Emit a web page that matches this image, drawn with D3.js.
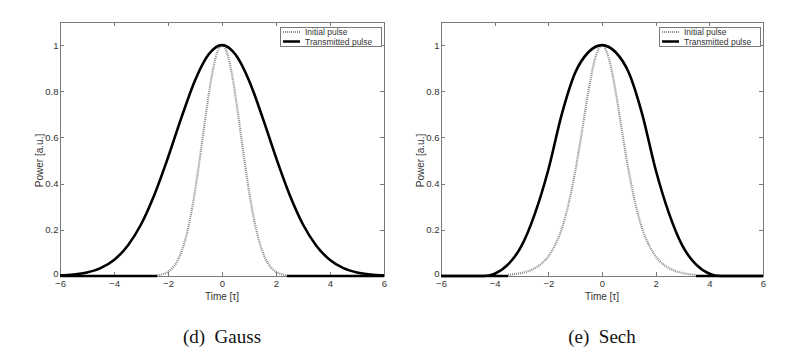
<!DOCTYPE html>
<html><head><meta charset="utf-8">
<script src="https://cdn.jsdelivr.net/npm/d3@7"></script>
<style>
html,body{margin:0;padding:0;background:#fff;}
svg{display:block;}
</style></head>
<body>
<svg id="chart" width="791" height="356"></svg>
<script>
// ---- data ----
const xTicks = [-6, -4, -2, 0, 2, 4, 6];
const yTicks = [0, 0.2, 0.4, 0.6, 0.8, 1];
const xDomain = [-6, 6];
const yDomain = [0, 1.1];

const gaussInitT = [-2.4,-2.2,-2.0,-1.8,-1.6,-1.4,-1.2,-1.0,-0.8,-0.6,-0.4,-0.2,0,0.2,0.4,0.6,0.8,1.0,1.2,1.4,1.6,1.8,2.0,2.2,2.4];
const gaussInitP = [0.003,0.008,0.018,0.039,0.077,0.141,0.237,0.368,0.527,0.698,0.852,0.961,1,0.961,0.852,0.698,0.527,0.368,0.237,0.141,0.077,0.039,0.018,0.008,0.003];
const gaussTransT = [-6,-5.5,-5,-4.5,-4,-3.5,-3,-2.5,-2,-1.5,-1,-0.5,0,0.5,1,1.5,2,2.5,3,3.5,4,4.5,5,5.5,6];
const gaussTransP = [0.0025,0.0065,0.0155,0.034,0.0695,0.130,0.223,0.353,0.513,0.687,0.847,0.959,1,0.959,0.847,0.687,0.513,0.353,0.223,0.130,0.0695,0.034,0.0155,0.0065,0.0025];
const gaussBaseline = [[-6,-2.4],[2.4,6]];

const sechInitT = [-3.5,-3.25,-3,-2.75,-2.5,-2.25,-2,-1.75,-1.5,-1.25,-1,-0.75,-0.5,-0.25,0,0.25,0.5,0.75,1,1.25,1.5,1.75,2,2.25,2.5,2.75,3,3.25,3.5];
const sechInitP = [0.005,0.008,0.013,0.021,0.034,0.054,0.085,0.134,0.204,0.310,0.452,0.624,0.804,0.945,1,0.945,0.804,0.624,0.452,0.310,0.204,0.134,0.085,0.054,0.034,0.021,0.013,0.008,0.005];
const sechTransT = [-6,-5.5,-5,-4.5,-4.4,-4,-3.5,-3,-2.5,-2,-1.5,-1,-0.5,0,0.5,1,1.5,2,2.5,3,3.5,4,4.4,4.5,5,5.5,6];
const sechTransP = [0,0,0,0,0,0.01,0.05,0.13,0.27,0.46,0.70,0.88,0.97,1,0.97,0.88,0.70,0.46,0.27,0.13,0.05,0.01,0,0,0,0,0];
const sechBaseline = [[-6,-3.5],[3.5,6]];

const legendLabels = ["Initial pulse", "Transmitted pulse"];
const captions = ["(d)\u00a0\u00a0Gauss", "(e)\u00a0\u00a0Sech"];

// ---- drawing ----
const svg = d3.select("#chart");
const axisColor = "#7a7a7a";
const textColor = "#333";
const sans = "Liberation Sans, Arial, sans-serif";

const panels = [
  {x0: 60, x1: 384, init: [gaussInitT, gaussInitP], trans: [gaussTransT, gaussTransP], base: gaussBaseline, cap: captions[0]},
  {x0: 441, x1: 763, init: [sechInitT, sechInitP], trans: [sechTransT, sechTransP], base: sechBaseline, cap: captions[1]}
];

const yTop = 22, yBot = 276;

panels.forEach(p => {
  const g = svg.append("g");
  const x = d3.scaleLinear().domain(xDomain).range([p.x0, p.x1]);
  const y = d3.scaleLinear().domain(yDomain).range([yBot, yTop]);

  // box
  g.append("rect").attr("x", p.x0).attr("y", yTop).attr("width", p.x1 - p.x0).attr("height", yBot - yTop)
    .attr("fill", "#fff").attr("stroke", axisColor).attr("stroke-width", 1).attr("shape-rendering", "crispEdges");

  // axes with inward ticks
  const xa = g.append("g").attr("transform", `translate(0,${yBot})`)
    .call(d3.axisBottom(x).tickValues(xTicks).tickSize(-4).tickPadding(4).tickFormat(d3.format("d")));
  const xa2 = g.append("g").attr("transform", `translate(0,${yTop})`)
    .call(d3.axisTop(x).tickValues(xTicks).tickSize(-4).tickFormat(""));
  const ya = g.append("g").attr("transform", `translate(${p.x0},0)`)
    .call(d3.axisLeft(y).tickValues(yTicks).tickSize(-4).tickPadding(1.5).tickFormat(d => d === 0 || d === 1 ? d3.format("d")(d) : d3.format(".1f")(d)));
  const ya2 = g.append("g").attr("transform", `translate(${p.x1},0)`)
    .call(d3.axisRight(y).tickValues(yTicks).tickSize(-4).tickFormat(""));
  [xa, xa2, ya, ya2].forEach(a => {
    a.select(".domain").remove();
    a.selectAll("line").attr("stroke", axisColor).attr("shape-rendering", "crispEdges");
    a.selectAll("text").attr("fill", textColor).style("font-family", sans).style("font-size", "9.5px");
  });
  // lift the "0" y label slightly so it clears the x labels
  ya.selectAll(".tick").filter(d => d === 0).select("text").attr("dy", "0.05em");

  // axis labels
  g.append("text").attr("x", (p.x0 + p.x1) / 2).attr("y", 300).attr("text-anchor", "middle")
    .attr("fill", textColor).style("font-family", sans).style("font-size", "10px")
    .text("Time [\u03c4]");
  g.append("text").attr("transform", `translate(${p.x0 - 17},${(yBot + 45) / 2}) rotate(-90)`).attr("text-anchor", "middle")
    .attr("fill", textColor).style("font-family", sans).style("font-size", "10px")
    .text("Power [a.u.]");

  // baseline where the initial pulse is absent
  p.base.forEach(seg => {
    g.append("line").attr("x1", x(seg[0])).attr("x2", x(seg[1])).attr("y1", y(0)).attr("y2", y(0))
      .attr("stroke", "#000").attr("stroke-width", 2.5);
  });

  const line = d3.line().x(d => x(d[0])).y(d => y(d[1])).curve(d3.curveMonotoneX);
  const initData = p.init[0].map((t, i) => [t, p.init[1][i]]);
  const transData = p.trans[0].map((t, i) => [t, p.trans[1][i]]);

  g.append("path").datum(initData).attr("d", line).attr("fill", "none")
    .attr("stroke", "#8a8a8a").attr("stroke-width", 2.2).attr("stroke-dasharray", "1,1");
  g.append("path").datum(transData).attr("d", line).attr("fill", "none")
    .attr("stroke", "#000").attr("stroke-width", 2.6).attr("stroke-linejoin", "round");

  // legend
  const lx = p.x1 - 104, ly = 27, lw = 101, lh = 19;
  const lg = g.append("g");
  lg.append("rect").attr("x", lx).attr("y", ly).attr("width", lw).attr("height", lh)
    .attr("fill", "#fff").attr("stroke", axisColor).attr("stroke-width", 1).attr("shape-rendering", "crispEdges");
  const styles = [{c: "#8a8a8a", w: 2, d: "1,1"}, {c: "#000", w: 2.5, d: null}];
  legendLabels.forEach((lab, i) => {
    const yy = ly + 5 + i * 9.5;
    lg.append("line").attr("x1", lx + 3).attr("x2", lx + 20).attr("y1", yy).attr("y2", yy)
      .attr("stroke", styles[i].c).attr("stroke-width", styles[i].w).attr("stroke-dasharray", styles[i].d);
    lg.append("text").attr("x", lx + 25).attr("y", yy + 3).attr("fill", textColor)
      .style("font-family", sans).style("font-size", "8.5px").text(lab);
  });

  // caption
  svg.append("text").attr("x", (p.x0 + p.x1) / 2).attr("y", 343).attr("text-anchor", "middle")
    .attr("fill", "#111").style("font-family", "Liberation Serif, DejaVu Serif, serif").style("font-size", "19px")
    .text(p.cap);
});
</script>
</body></html>
